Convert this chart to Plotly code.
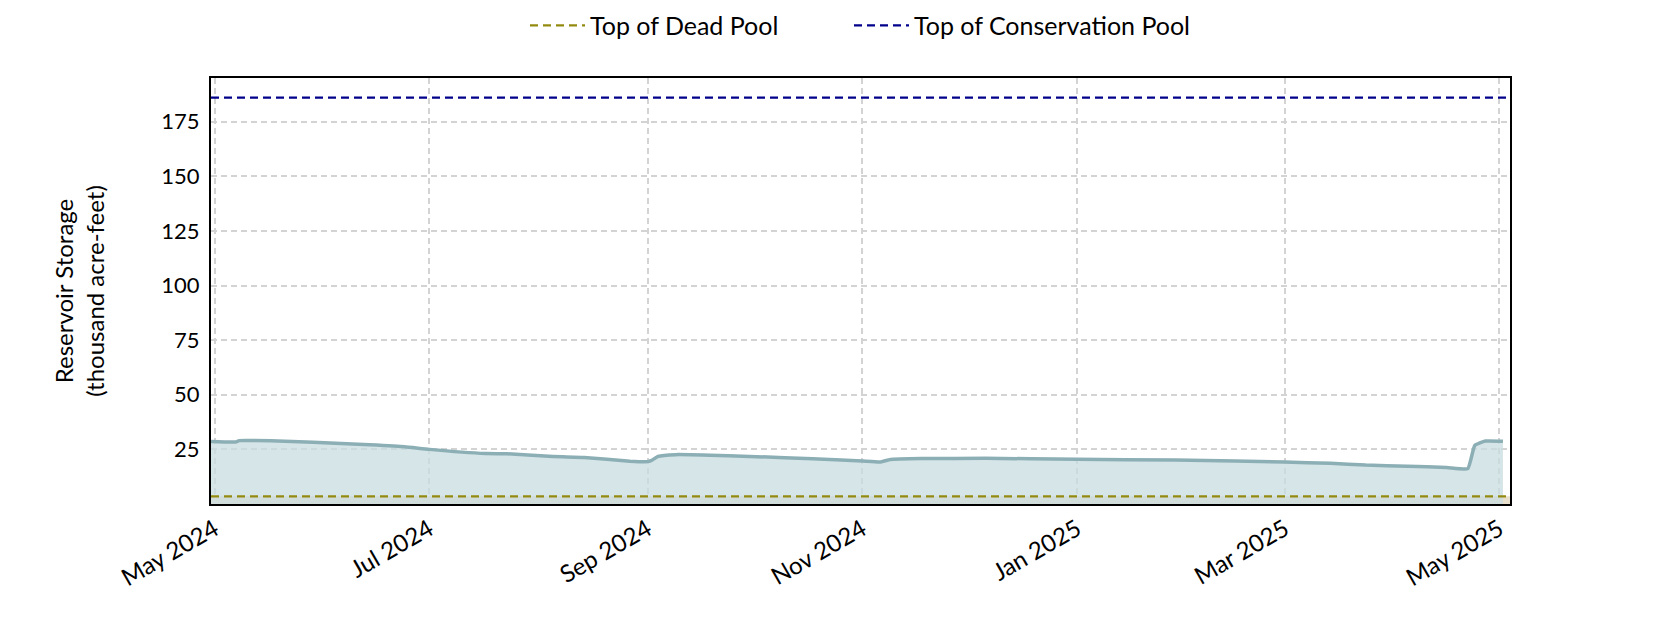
import plotly.graph_objects as go

dates = ["2024-04-30", "2024-05-07", "2024-05-08", "2024-05-17", "2024-05-29", "2024-06-14",
         "2024-06-24", "2024-07-01", "2024-07-17", "2024-07-23", "2024-08-04", "2024-08-14",
         "2024-08-27", "2024-09-01", "2024-09-02", "2024-09-04", "2024-09-09", "2024-09-24",
         "2024-10-10", "2024-10-26", "2024-11-01", "2024-11-06", "2024-11-09", "2024-11-18",
         "2024-12-06", "2025-01-01", "2025-01-29", "2025-02-15", "2025-03-01", "2025-03-14",
         "2025-03-24", "2025-04-05", "2025-04-16", "2025-04-22", "2025-04-24", "2025-04-27",
         "2025-05-02"]
storage = [28.6, 28.4, 29.0, 28.9, 28.3, 27.1,
           26.2, 25.0, 23.1, 23.0, 21.9, 21.3,
           19.6, 19.4, 19.8, 21.8, 22.6, 22.1,
           21.2, 20.1, 19.7, 19.2, 20.4, 20.8,
           20.9, 20.5, 20.1, 19.7, 19.2, 18.6,
           17.8, 17.3, 16.7, 16.2, 26.8, 28.8,
           28.7]

dead_pool = 3.5
conservation_pool = 186.0
x_range = ["2024-04-30", "2025-05-04"]
y_ticks = [25, 50, 75, 100, 125, 150, 175]
x_ticks = ["2024-05-01", "2024-07-01", "2024-09-01", "2024-11-01", "2025-01-01", "2025-03-01", "2025-05-01"]
x_tick_labels = ["May 2024", "Jul 2024", "Sep 2024", "Nov 2024", "Jan 2025", "Mar 2025", "May 2025"]

FONT = "Lato"

fig = go.Figure()

# dead pool band (below)
fig.add_trace(go.Scatter(
    x=[x_range[0], x_range[1]], y=[dead_pool, dead_pool],
    mode="lines", line=dict(width=0), fill="tozeroy",
    fillcolor="rgba(232,224,204,1)", showlegend=False, hoverinfo="skip"))

fig.add_trace(go.Scatter(
    x=dates, y=storage, mode="lines",
    line=dict(color="#8cafb5", width=3.5, shape="spline", smoothing=0.4),
    fill="tozeroy", fillcolor="rgba(200,220,224,0.75)",
    showlegend=False, name="Storage"))

fig.add_trace(go.Scatter(
    x=[x_range[0], x_range[1]], y=[dead_pool, dead_pool],
    mode="lines", line=dict(color="#948a10", width=2.2, dash="8px,5px"),
    name="Top of Dead Pool", legend="legend"))

fig.add_trace(go.Scatter(
    x=[x_range[0], x_range[1]], y=[conservation_pool, conservation_pool],
    mode="lines", line=dict(color="#00008b", width=2.2, dash="8px,5px"),
    name="Top of Conservation Pool", legend="legend2"))

legend_common = dict(orientation="h", xanchor="left", xref="container",
                     yanchor="middle", yref="container", y=0.972,
                     font=dict(size=25), itemwidth=55, bgcolor="rgba(0,0,0,0)")

fig.update_layout(
    width=1680, height=630,
    margin=dict(l=203, r=178, t=70, b=134),
    paper_bgcolor="white", plot_bgcolor="white",
    font=dict(family=FONT, size=22, color="black"),
    legend=dict(x=517 / 1680, **legend_common),
    legend2=dict(x=841 / 1680, **legend_common),
    xaxis=dict(range=x_range, tickvals=x_ticks, ticktext=x_tick_labels, tickangle=-30,
               showgrid=True, gridcolor="#d3d3d3", griddash="6px,4px", gridwidth=1.5,
               showline=True, linecolor="black", linewidth=2, mirror=True,
               ticks="", zeroline=False, tickfont=dict(size=24)),
    yaxis=dict(range=[0, 195], tickvals=y_ticks,
               showgrid=True, gridcolor="#d3d3d3", griddash="6px,4px", gridwidth=1.5,
               showline=True, linecolor="black", linewidth=2, mirror=True,
               ticks="", zeroline=False, tickfont=dict(size=22), ticklabelstandoff=5,
               title=dict(text="Reservoir Storage<br>(thousand acre-feet)", font=dict(size=24), standoff=50)),
)

fig.write_html("out.html")
